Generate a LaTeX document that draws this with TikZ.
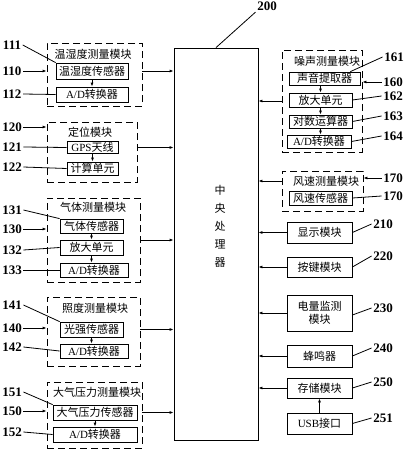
\documentclass[tikz,border=0pt]{standalone}
\usepackage{fontspec}
\setmainfont{Liberation Serif}
\newfontfamily\cjk{Noto Sans CJK SC}
\usetikzlibrary{arrows.meta,positioning}

\begin{document}
\begin{tikzpicture}[
  x=1pt,y=-1pt,
  box/.style={draw,line width=0.8pt,inner sep=1pt,font=\fontsize{11}{12.5}\selectfont\cjk},
  module/.style={draw,line width=0.8pt,dash pattern=on 7pt off 4pt},
  ttl/.style={inner sep=0pt,font=\fontsize{11}{12.5}\selectfont\cjk},
  num/.style={inner sep=1.5pt,font=\fontsize{13}{14}\selectfont\bfseries},
  lead/.style={line width=0.8pt},
  arr/.style={-{Latex[length=4pt,width=3pt]},line width=0.8pt}
]
\path[use as bounding box,fill=white] (0,0) rectangle (404,450);

% -------------------------
% central processor
% -------------------------
\node[draw,line width=0.8pt,minimum width=84pt,minimum height=392pt] (cpu) at (216,244) {};
\node[ttl,align=center,font=\fontsize{11}{18}\selectfont\cjk] (cput) at (220,226) {中\\央\\处\\理\\器};
\node[num] (l200) at (267,6) {200};
\draw[lead] (l200.south west) -- (cpu.north);

% -------------------------
% left: temperature / humidity
% -------------------------
\node[module,minimum width=95pt,minimum height=63pt] (thm) at (94.5,74.5) {};
\node[ttl] (thmt) at (93,54) {温湿度测量模块};
\node[box,minimum width=72pt,minimum height=16pt] (ths) at (92,71) {温湿度传感器};
\node[box,minimum width=72pt,minimum height=15pt] (thad) at (92,94.5) {{\rmfamily A/D}转换器};
\draw[arr] (ths.south) -- (thad.north);
\draw[arr] (ths.east -| thm.east) -- (ths.east -| cpu.west);

\node[num] (l111) at (12,45) {111};
\node[num] (l110) at (12,71) {110};
\node[num] (l112) at (12,94) {112};
\draw[lead] (l111.east) -- (ths.north west);
\draw[arr] (l110.east) -- (l110.east -| thm.west);
\draw[lead] (l112.east) -- (thad.west);

% -------------------------
% left: positioning
% -------------------------
\node[module,minimum width=90pt,minimum height=60pt] (pos) at (92,152) {};
\node[ttl] (post) at (90,132) {定位模块};
\node[box,minimum width=51pt,minimum height=12pt] (gps) at (92.5,147.5) {{\rmfamily GPS}天线};
\node[box,minimum width=51pt,minimum height=13pt] (calc) at (92.5,168.5) {计算单元};
\draw[arr] (gps.south) -- (calc.north);
\draw[arr] (gps.east -| pos.east) -- (gps.east -| cpu.west);

\node[num] (l120) at (12,127) {120};
\node[num] (l121) at (12,147) {121};
\node[num] (l122) at (12,167) {122};
\draw[arr] (l120.east) -- (l120.east -| pos.west);
\draw[lead] (l121.east) -- (gps.west);
\draw[lead] (l122.east) -- (calc.west);

% -------------------------
% left: gas
% -------------------------
\node[module,minimum width=93pt,minimum height=84pt] (gas) at (93.5,240) {};
\node[ttl] (gast) at (93,207) {气体测量模块};
\node[box,minimum width=63pt,minimum height=14pt] (gass) at (91.5,226) {气体传感器};
\node[box,minimum width=63pt,minimum height=15pt] (gasamp) at (91.5,247.5) {放大单元};
\node[box,minimum width=68pt,minimum height=14pt] (gasad) at (94,270) {{\rmfamily A/D}转换器};
\draw[arr] (gass.south) -- (gasamp.north);
\draw[arr] (gasamp.south) -- (gasamp.south |- gasad.north);
\draw[arr] (gas.east) -- (gas.east -| cpu.west);

\node[num] (l131) at (12,210) {131};
\node[num] (l130) at (12,229) {130};
\node[num] (l132) at (12,250) {132};
\node[num] (l133) at (12,270) {133};
\draw[lead] (l131.east) -- (gass.north west);
\draw[arr] (l130.east) -- (l130.east -| gas.west);
\draw[lead] (l132.east) -- (gasamp.west);
\draw[lead] (l133.east) -- (gasad.west);

% -------------------------
% left: illuminance
% -------------------------
\node[module,minimum width=93pt,minimum height=69pt] (lux) at (93.5,331.5) {};
\node[ttl] (luxt) at (95,308) {照度测量模块};
\node[box,minimum width=63pt,minimum height=15pt] (luxs) at (91.5,329.5) {光强传感器};
\node[box,minimum width=68pt,minimum height=14pt] (luxad) at (94,351) {{\rmfamily A/D}转换器};
\draw[arr] (luxs.south) -- (luxs.south |- luxad.north);
\draw[arr] (luxs.east -| lux.east) -- (luxs.east -| cpu.west);

\node[num] (l141) at (12,305) {141};
\node[num] (l140) at (12,328) {140};
\node[num] (l142) at (12,347) {142};
\draw[lead] (l141.east) -- (luxs.north west);
\draw[arr] (l140.east) -- (l140.east -| lux.west);
\draw[lead] (l142.east) -- (luxad.west);

% -------------------------
% left: air pressure
% -------------------------
\node[module,minimum width=95pt,minimum height=66pt] (atm) at (94.5,415) {};
\node[ttl] (atmt) at (97,392) {大气压力测量模块};
\node[box,minimum width=84pt,minimum height=15pt] (atms) at (95,412.5) {大气压力传感器};
\node[box,minimum width=84pt,minimum height=15pt] (atmad) at (95,434.5) {{\rmfamily A/D}转换器};
\draw[arr] (atms.south) -- (atmad.north);
\draw[arr] (atms.east -| atm.east) -- (atms.east -| cpu.west);

\node[num] (l151) at (12,392) {151};
\node[num] (l150) at (12,411) {150};
\node[num] (l152) at (12,432) {152};
\draw[lead] (l151.east) -- (atms.north west);
\draw[arr] (l150.east) -- (l150.east -| atm.west);
\draw[lead] (l152.east) -- (atmad.west);

% -------------------------
% right: noise
% -------------------------
\node[module,minimum width=80pt,minimum height=102pt] (noise) at (322,101) {};
\node[ttl] (noiset) at (327,61) {噪声测量模块};
\node[box,minimum width=71pt,minimum height=13pt] (snd) at (324.5,78.5) {声音提取器};
\node[box,minimum width=63pt,minimum height=14pt] (namp) at (320.5,100) {放大单元};
\node[box,minimum width=63pt,minimum height=13pt] (nlog) at (320.5,121.5) {对数运算器};
\node[box,minimum width=64pt,minimum height=13pt] (nad) at (319,141.5) {{\rmfamily A/D}转换器};
\draw[arr] (snd.south -| namp.north) -- (namp.north);
\draw[arr] (namp.south) -- (nlog.north);
\draw[arr] (nlog.south) -- (nlog.south |- nad.north);
\draw[arr] (noise.west) -- (noise.west -| cpu.east);

\node[num] (l161) at (394,57) {161};
\node[num] (l160) at (393,82) {160};
\node[num] (l162) at (393,96) {162};
\node[num] (l163) at (393,116) {163};
\node[num] (l164) at (393,136) {164};
\draw[lead] (l161.west) -- ([xshift=-10pt]snd.north east);
\draw[arr] (l160.west) -- (l160.west -| noise.east);
\draw[lead] (l162.west) -- (namp.east);
\draw[lead] (l163.west) -- (nlog.east);
\draw[lead] (l164.west) -- (nad.east);

% -------------------------
% right: wind speed
% -------------------------
\node[module,minimum width=81pt,minimum height=40pt] (wind) at (322.5,191) {};
\node[ttl] (windt) at (326,181) {风速测量模块};
\node[box,minimum width=63pt,minimum height=14pt] (wnds) at (320.5,198) {风速传感器};
\draw[arr] (windt -| wind.west) -- (windt -| cpu.east);

\node[num] (l170) at (393,178) {170};
\node[num] (l170b) at (393,196) {170};
\draw[arr] (l170.west) -- (l170.west -| wind.east);
\draw[lead] (l170b.west) -- (wnds.east);

% -------------------------
% right: plain units
% -------------------------
\node[box,minimum width=65pt,minimum height=21pt] (disp) at (319.5,232.5) {显示模块};
\node[box,minimum width=65pt,minimum height=20pt] (key) at (319.5,267) {按键模块};
\node[box,minimum width=65pt,minimum height=36pt,align=center] (bat) at (319.5,313) {电量监测\\模块};
\node[box,minimum width=65pt,minimum height=22pt] (buzz) at (319.5,356) {蜂鸣器};
\node[box,minimum width=65pt,minimum height=20pt] (store) at (319.5,388) {存储模块};
\node[box,minimum width=65pt,minimum height=21pt] (usb) at (319.5,423.5) {{\rmfamily USB}接口};

\draw[arr] (disp.west) -- (disp.west -| cpu.east);
\draw[arr] (key.west) -- (key.west -| cpu.east);
\draw[arr] (bat.west) -- (bat.west -| cpu.east);
\draw[arr] (buzz.west) -- (buzz.west -| cpu.east);
\draw[arr] (store.west) -- (store.west -| cpu.east);
\draw[arr] (usb.north) -- (store.south);

\node[num] (l210) at (383,224) {210};
\node[num] (l220) at (383,256) {220};
\node[num] (l230) at (383,308) {230};
\node[num] (l240) at (383,348) {240};
\node[num] (l250) at (383,382) {250};
\node[num] (l251) at (383,418) {251};
\draw[lead] (l210.west) -- (disp.east);
\draw[lead] (l220.west) -- (key.east);
\draw[lead] (l230.west) -- ([yshift=-2pt]bat.east);
\draw[lead] (l240.west) -- (buzz.east);
\draw[lead] (l250.west) -- (store.east);
\draw[lead] (l251.west) -- (usb.east);

\end{tikzpicture}
\end{document}
